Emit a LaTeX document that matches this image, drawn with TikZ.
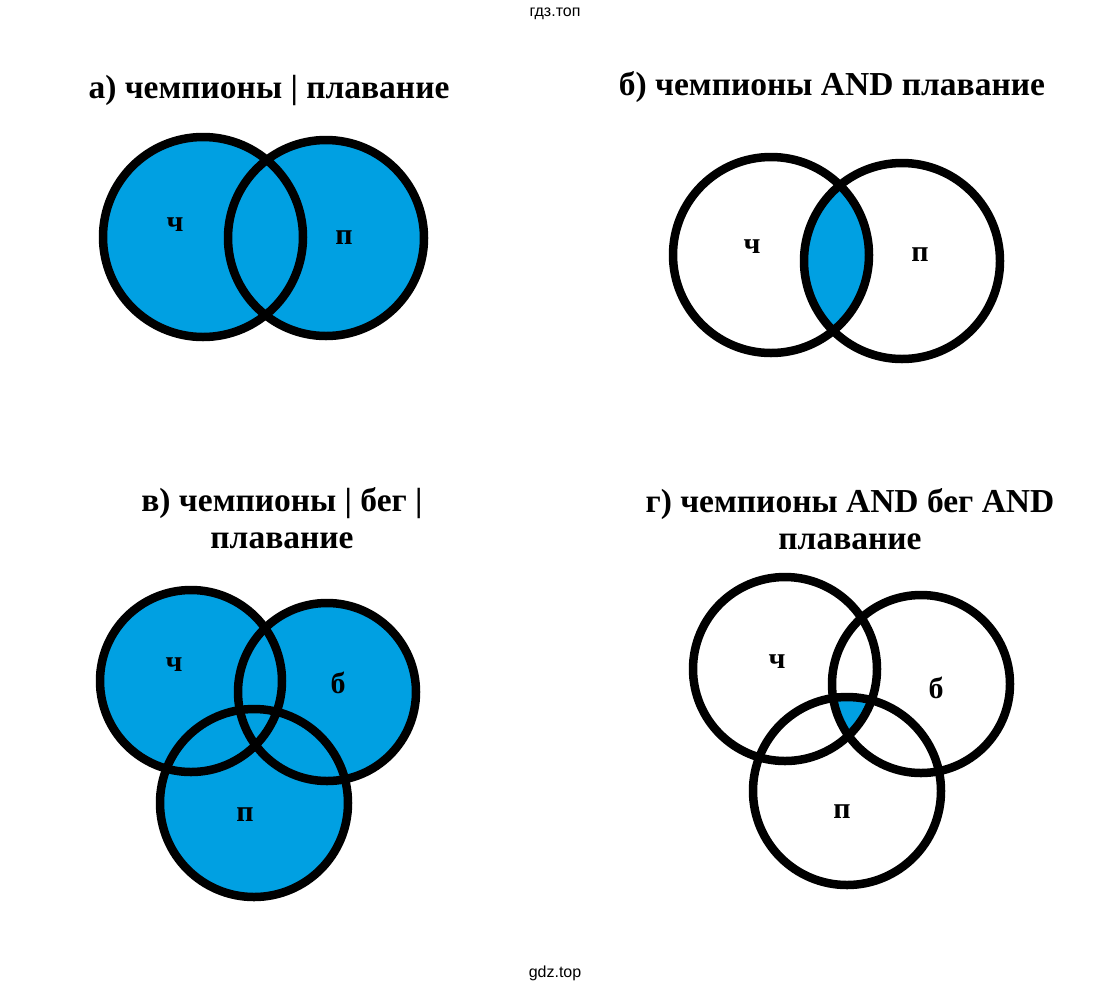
\documentclass[tikz,border=0pt]{standalone}
\usepackage{fontspec}
\setmainfont{Liberation Serif}
\newfontfamily\wmfont{Liberation Sans}
\definecolor{vennblue}{RGB}{0,160,226}
\tikzset{
  ring/.style={line width=8.5pt},
  lbl/.style={font=\fontsize{30}{32}\selectfont\bfseries},
  ttl/.style={font=\fontsize{33.5}{37}\selectfont\bfseries, align=center},
  wm/.style={font=\fontsize{16}{18}\selectfont\wmfont}
}
\begin{document}
\begin{tikzpicture}[x=1pt,y=-1pt]
  \useasboundingbox [fill=white] (0,0) rectangle (1110,994);
  \node [wm] (wmtop) at (555,14) {гдз.топ};
  \node [wm] (wmbot) at (555,973) {gdz.top};
  % a) union of two
  \node [ttl] (ta) at (269,90) {а) чемпионы | плавание};
  \fill [vennblue] (203,237) circle [radius=100] (326,238) circle [radius=98];
  \draw [ring] (203,237) circle [radius=100]; \draw [ring] (326,238) circle [radius=98];
  \node [lbl] (ach) at (175,225) {ч}; \node [lbl] (apl) at (344,238) {п};
  % b) intersection of two
  \node [ttl] (tb) at (832,87) {б) чемпионы AND плавание};
  \begin{scope}
    \clip (771,255) circle [radius=98];
    \fill [vennblue] (902,261) circle [radius=98];
  \end{scope}
  \draw [ring] (771,255) circle [radius=98]; \draw [ring] (902,261) circle [radius=98];
  \node [lbl] (bch) at (752,247) {ч}; \node [lbl] (bpl) at (920,255) {п};
  % v) union of three
  \node [ttl] (tc) at (282,518) {в) чемпионы | бег |\\плавание};
  \fill [vennblue] (191,681) circle [radius=91] (327,692) circle [radius=89]
    (254,803) circle [radius=94];
  \draw [ring] (191,681) circle [radius=91]; \draw [ring] (327,692) circle [radius=89];
  \draw [ring] (254,803) circle [radius=94];
  \node [lbl] (cch) at (174,665) {ч}; \node [lbl] (cbg) at (338,683) {б};
  \node [lbl] (cpl) at (245,815) {п};
  % g) intersection of three
  \node [ttl] (td) at (850,519) {г) чемпионы AND бег AND\\плавание};
  \begin{scope}
    \clip (785,669) circle [radius=92];
    \clip (921,684) circle [radius=89];
    \fill [vennblue] (847,791) circle [radius=94];
  \end{scope}
  \draw [ring] (785,669) circle [radius=92]; \draw [ring] (921,684) circle [radius=89];
  \draw [ring] (847,791) circle [radius=94];
  \node [lbl] (dch) at (777,662) {ч}; \node [lbl] (dbg) at (936,688) {б};
  \node [lbl] (dpl) at (842,812) {п};
\end{tikzpicture}
\end{document}
